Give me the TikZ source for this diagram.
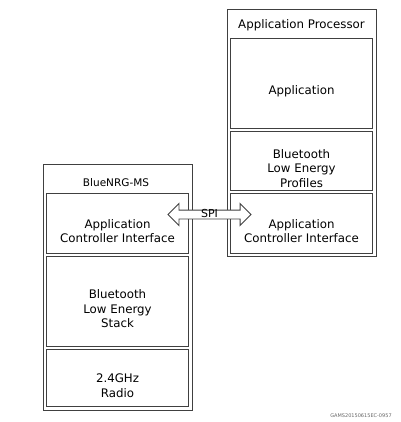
\documentclass[tikz,border=0pt]{standalone}
\usepackage{fontspec}
\setmainfont{DejaVu Sans}
\usetikzlibrary{shapes.arrows,calc}

\begin{document}
\begin{tikzpicture}[x=1pt,y=-1pt]
	\useasboundingbox (0,0) rectangle (400,422);
	
	\begin{scope}[every node/.style={draw=black!75,line width=0.9pt,inner sep=0pt,minimum width=149}]
		\node[minimum height=247] (proc) at (301.5,132.5) {};
		\node[minimum height=246] (ble) at (117.5,287) {};
	\end{scope}
	
	\begin{scope}[every node/.style={font=\fontsize{11.8}{14.5}\selectfont}]
		\node (proctitle) at (301.5,25) {Application Processor};
		\node[font=\fontsize{10.5}{13}\selectfont] (bletitle) at (116,183) {BlueNRG-MS};
	\end{scope}
	
	\begin{scope}[every node/.style={draw=black!75,line width=0.9pt,inner sep=0pt,minimum width=142},
		every label/.style={draw=none,minimum width=0pt,align=center,yshift=-8pt,font=\fontsize{11.8}{14.5}\selectfont}]
		\node[minimum height=90,label={center:Application}] (app) at (301.5,83) {};
		\node[minimum height=59,label={center:Bluetooth\\Low Energy\\Profiles}] (prof) at (301.5,160.5) {};
		\node[minimum height=60,label={center:Application\\Controller Interface}] (rac) at (301.5,223) {};
		\node[minimum height=60,label={center:Application\\Controller Interface}] (lac) at (117.5,223) {};
		\node[minimum height=90,label={center:Bluetooth\\Low Energy\\Stack}] (stack) at (117.5,301) {};
		\node[minimum height=57,label={center:2.4GHz\\Radio}] (radio) at (117.5,377.5) {};
	\end{scope}
	
	\node[double arrow,draw=black!75,line width=0.9pt,fill=white,inner sep=4pt,minimum height=83,double arrow head extend=6.5pt] (spi) at ($(lac.east)!0.5!(rac.west)+(0,-8.5)$) {};
	\node[font=\fontsize{11}{13}\selectfont,inner sep=0pt] (spitxt) at ([yshift=1pt]spi.center) {SPI};
	
	\node[font=\fontsize{5}{6}\selectfont,text=black!60] (figid) at (361,416) {GAMS20150615EC-0957};
\end{tikzpicture}
\end{document}
